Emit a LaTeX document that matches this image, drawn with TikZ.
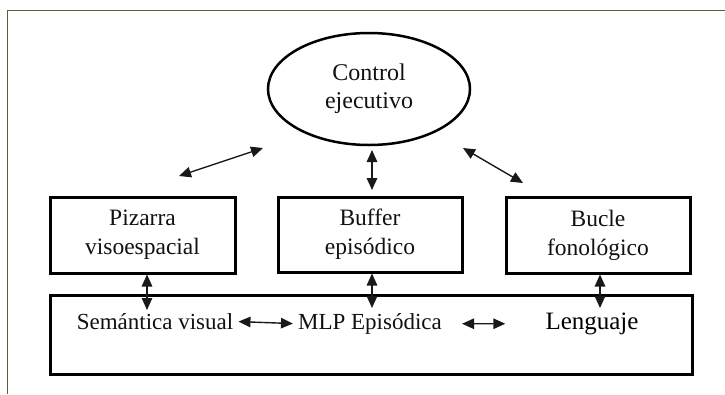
\documentclass[tikz,border=0pt]{standalone}
\usepackage{fontspec}
\setmainfont{Liberation Serif}
\newfontfamily\tnr{Liberation Serif}
\usetikzlibrary{shapes.geometric,arrows.meta}
\definecolor{framecol}{HTML}{5F5F3F}
\definecolor{txtcol}{HTML}{111111}
\tikzset{
  boxnode/.style={draw=black, line width=3pt, inner sep=0pt, align=center,
    font=\tnr\fontsize{23.5}{29}\selectfont, text=txtcol},
  ellnode/.style={ellipse, draw=black, line width=2.5pt, inner sep=0pt, align=center,
    minimum width=202pt, minimum height=112pt, font=\tnr\fontsize{24}{28}\selectfont, text=txtcol},
  lbl/.style={inner sep=0pt, font=\tnr\fontsize{23}{29}\selectfont, text=txtcol, anchor=mid},
  dblarrow/.style={line width=1.4pt, draw=black!90,
    {Triangle[length=12pt,width=10.5pt]}-{Triangle[length=12pt,width=10.5pt]}},
  frameline/.style={draw=framecol, line width=1.3pt}
}
\begin{document}
\begin{tikzpicture}[x=1pt,y=-1pt]
\useasboundingbox (0,0) rectangle (725,394);
% frame
\draw[frameline] (7.5,394) -- (7.5,10.5) -- (725,10.5);
% nodes
\node[ellnode] (ce) at (369,89) {Control\\ejecutivo};
\node[boxnode, minimum width=185pt, minimum height=76pt] (piz) at (142.5,235) {Pizarra\\visoespacial};
\node[boxnode, minimum width=184pt, minimum height=75pt] (buf) at (370,234.5) {Buffer\\episódico};
\node[boxnode, minimum width=184pt, minimum height=76pt] (buc) at (598,235) {Bucle\\fonológico};
\node[boxnode, minimum width=642pt, minimum height=79pt] (big) at (371,334.5) {};
\node[lbl] (sem) at (155,327) {Semántica visual};
\node[lbl] (mlp) at (370,327) {MLP Episódica};
\node[lbl, font=\tnr\fontsize{25}{29}\selectfont, text=black] (len) at (592,327) {Lenguaje};
% free ends
\coordinate (l1) at (179,176);
\coordinate (l2) at (263,148);
\coordinate (m1) at (372,150);
\coordinate (m2) at (372,190);
\coordinate (r1) at (463,148);
\coordinate (r2) at (523,183);
\coordinate (pa) at (147,310);
\coordinate (ba) at (372,308);
\coordinate (ca) at (600,308);
% connectors
\draw[dblarrow] (l1) -- (l2);
\draw[dblarrow] (m1) -- (m2);
\draw[dblarrow] (r1) -- (r2);
\draw[dblarrow] ([xshift=4.5pt]piz.south) -- (pa);
\draw[dblarrow] ([xshift=2pt]buf.south) -- (ba);
\draw[dblarrow] ([xshift=2pt]buc.south) -- (ca);
\draw[dblarrow, shorten <=5pt, shorten >=5pt] (sem.east) -- (mlp.west);
\draw[dblarrow, shorten <=20pt, shorten >=40pt] (mlp.east) -- (len.west);
\end{tikzpicture}
\end{document}
